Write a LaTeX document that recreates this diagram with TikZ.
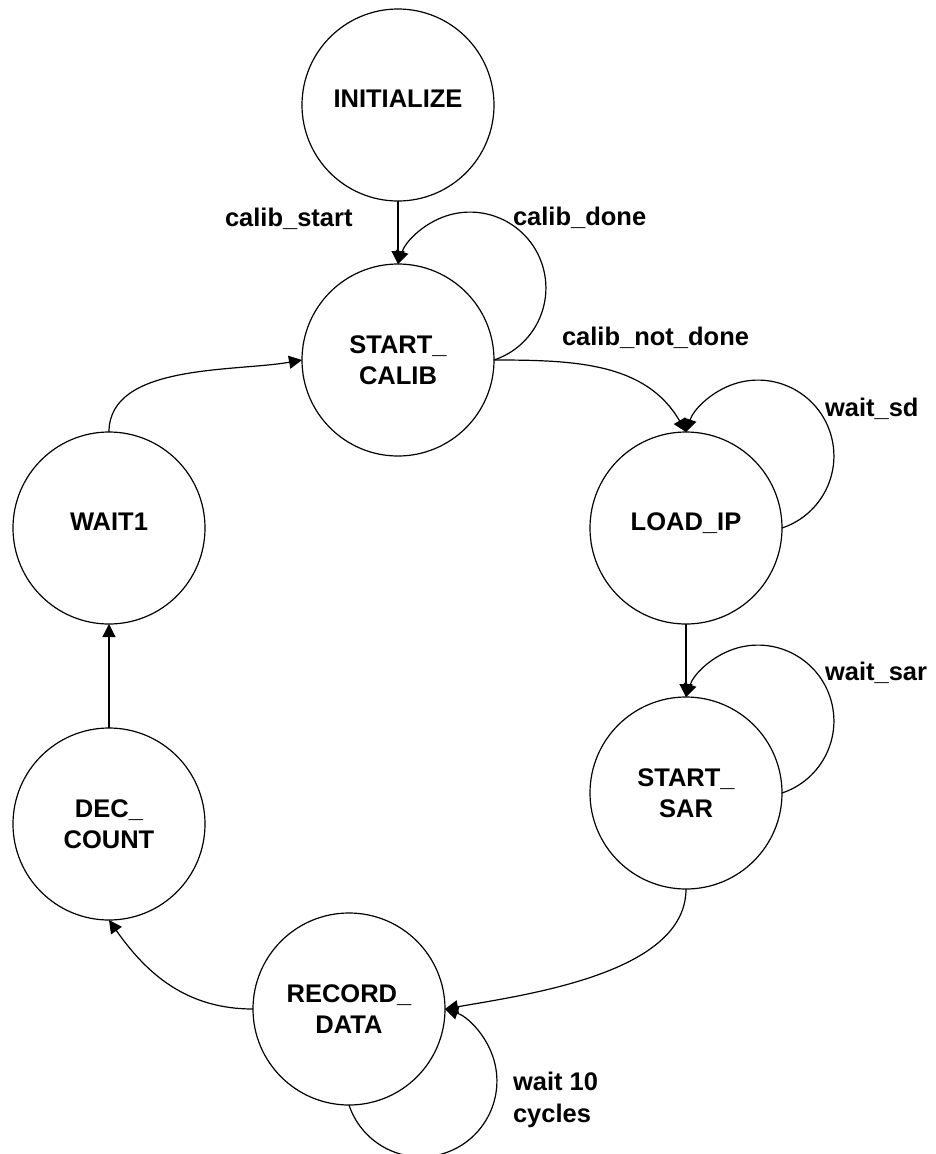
\documentclass[tikz,border=0pt]{standalone}
\usepackage{fontspec}
\setmainfont{Liberation Sans}
\usetikzlibrary{arrows.meta}
\begin{document}
\begin{tikzpicture}[x=1pt,y=1pt,
  state/.style={circle,draw,line width=1.2pt,minimum size=192pt,inner sep=0pt,outer sep=0pt,
    align=center,font=\fontsize{25.5}{31}\selectfont\bfseries},
  single/.style={text depth=12pt},
  lbl/.style={inner sep=0pt,outer sep=0pt,font=\fontsize{25.5}{32}\selectfont\bfseries},
  arr/.style={line width=1.2pt,-{Triangle[length=13pt,width=13pt]}}]
\fill[white] (0,0) rectangle (935,-1154);
\useasboundingbox (0,0) rectangle (935,-1154);

\node[state,single] (ini) at (398,-105) {INITIALIZE};
\node[state] (sc) at (398,-360) {START\_\\CALIB};
\node[state,single] (lip) at (686,-528) {LOAD\_IP};
\node[state] (ss) at (686,-793) {START\_\\SAR};
\node[state] (rd) at (349,-1009) {RECORD\_\\DATA};
\node[state] (dc) at (109,-824) {DEC\_\\COUNT};
\node[state,single] (w1) at (109,-528) {WAIT1};

\draw[arr] (ini) -- (sc);
\draw[arr] (sc.east) arc[start angle=-71.57,end angle=161.57,radius=75.9];
\draw[arr] (sc.east) to[out=0,in=120] (lip.north);
\draw[arr] (lip.east) arc[start angle=-71.57,end angle=161.57,radius=75.9];
\draw[arr] (lip) -- (ss);
\draw[arr] (ss.east) arc[start angle=-71.57,end angle=161.57,radius=75.9];
\draw[arr] (ss.south) to[out=-90,in=10,looseness=0.8] (rd.east);
\draw[arr] (rd.south) arc[start angle=198.43,end angle=431.57,radius=75.9];
\draw[arr] (rd.west) to[out=180,in=-55] (dc.south);
\draw[arr] (dc) -- (w1);
\draw[arr] (w1.north) to[out=90,in=190,looseness=0.85] (sc.west);

\node[lbl,anchor=base west] (l1) at (225,-226) {calib\_start};
\node[lbl,anchor=base west] (l2) at (513,-225) {calib\_done};
\node[lbl,anchor=base west] (l3) at (562,-345) {calib\_not\_done};
\node[lbl,anchor=base west] (l4) at (825,-416) {wait\_sd};
\node[lbl,anchor=base west] (l5) at (825,-680) {wait\_sar};
\node[lbl,anchor=north west,align=left] (l6) at (513,-1072) {wait 10\\cycles};
\end{tikzpicture}
\end{document}
